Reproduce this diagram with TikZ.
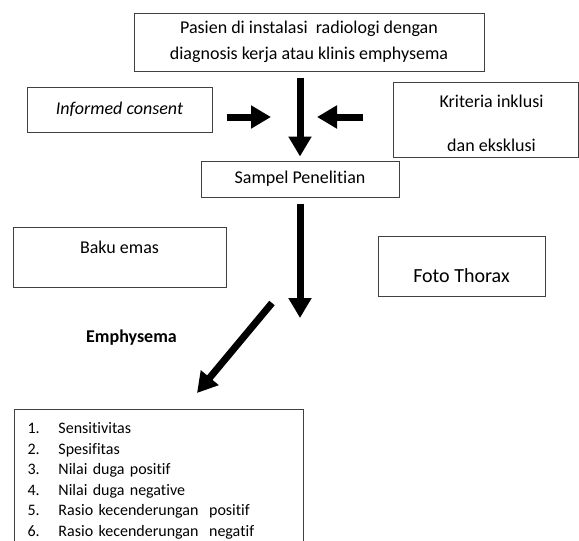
\documentclass[tikz,border=0pt]{standalone}
\usepackage{fontspec}
\setmainfont[RawFeature={-liga;-clig;-calt;-dlig}]{Carlito}
\usetikzlibrary{arrows.meta,positioning}

\begin{document}
\begin{tikzpicture}[
  x=1pt, y=-1pt,
  box/.style={draw=black!75, line width=1pt, align=center, inner sep=0pt,
    font=\fontsize{18}{22}\selectfont},
  arrow/.style={line width=7pt, -{Triangle[length=20pt, width=22pt]}},
]
  \clip (0,0) rectangle (579,541);

  \node[box, minimum width=350pt, minimum height=58pt,
    font=\fontsize{18}{26}\selectfont] (pasien) at (309,42)
    {Pasien di instalasi\ \ radiologi dengan\\diagnosis kerja atau klinis emphysema};
  \node[box, minimum width=185pt, minimum height=45pt, font=\fontsize{18}{22}\selectfont\itshape]
    (informed) at (119.5,109.5) {Informed consent};
  \node[box, minimum width=185pt, minimum height=75pt] (kriteria) at (485.5,119.5)
    {\strut\\[-17pt]\hspace*{12pt}Kriteria inklusi\\[22pt]\hspace*{12pt}dan eksklusi};
  \node[box, minimum width=198pt, minimum height=36pt] (sampel) at (300,179) {Sampel Penelitian};

  \node[box, minimum width=213pt, minimum height=60pt] (baku) at (119.5,257) {Baku emas\\[-10pt]\strut};
  \node[box, minimum width=167pt, minimum height=60pt, font=\fontsize{20}{24}\selectfont]
    (foto) at (461.5,266) {\strut\\[-8pt]Foto Thorax};
  \node[font=\fontsize{18}{22}\selectfont\bfseries] (emph) at (131.5,338) {Emphysema};

  \node[box, anchor=north west, align=left, inner xsep=13pt, inner ysep=13pt,
    text width=263pt, font=\fontsize{16}{20.6}\selectfont]
    (hasil) at (14,409)
    {\makebox[31pt][l]{1.}Sensitivitas\\
     \makebox[31pt][l]{2.}Spesifitas\\
     \makebox[31pt][l]{3.}Nilai duga positif\\
     \makebox[31pt][l]{4.}Nilai duga negative\\
     \makebox[31pt][l]{5.}Rasio kecenderungan\ \ positif\\
     \makebox[31pt][l]{6.}Rasio kecenderungan\ \ negatif\\[6pt]
     \mbox{}};

  % free ends of the arrows
  \coordinate (joinL) at (271,117);
  \coordinate (joinR) at (317,117);
  \coordinate (split) at (300,318);
  \coordinate (diagA) at (272,303);
  \coordinate (diagB) at (197,393);

  \draw[arrow, shorten <=6pt, shorten >=4pt] (sampel.north |- pasien.south) -- (sampel.north);
  \draw[arrow, shorten <=14pt] (informed.east |- joinL) -- (joinL);
  \draw[arrow, shorten <=30pt] (kriteria.west |- joinR) -- (joinR);
  \draw[arrow, shorten <=6pt] (sampel.south) -- (split);
  \draw[arrow] (diagA) -- (diagB);
\end{tikzpicture}
\end{document}
